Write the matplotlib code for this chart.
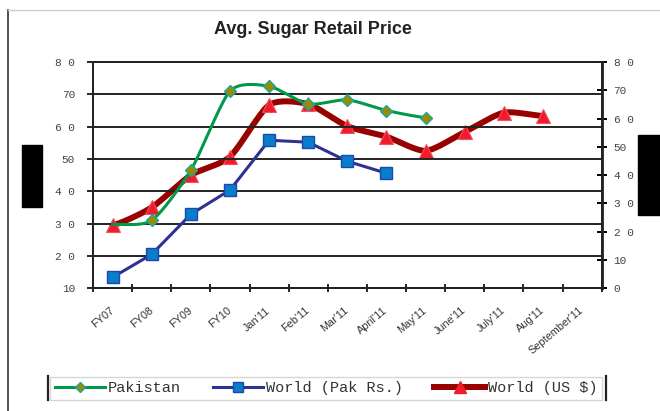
import numpy as np
import matplotlib
matplotlib.use("Agg")
import matplotlib.pyplot as plt
from matplotlib.lines import Line2D
from matplotlib.patches import Rectangle

# data
categories = ["FY07", "FY08", "FY09", "FY10", "Jan'11", "Feb'11", "Mar'11",
              "April'11", "May'11", "June'11", "July'11", "Aug'11", "September'11"]
pakistan = [29.8, 31.0, 46.5, 71.0, 72.5, 67.0, 68.3, 65.0, 62.8]
world_pkr = [13.4, 20.5, 32.9, 40.4, 55.8, 55.2, 49.3, 45.6]
world_usd = [22.3, 28.6, 40.0, 46.5, 64.8, 65.1, 57.3, 53.6, 48.6, 55.3, 62.1, 60.9]

left_ticks = [10, 20, 30, 40, 50, 60, 70, 80]
left_labels = ["10", "2 0", "3 0", "4 0", "50", "6 0", "70", "8 0"]
right_ticks = [0, 10, 20, 30, 40, 50, 60, 70, 80]
right_labels = ["0", "10", "2 0", "3 0", "4 0", "50", "6 0", "70", "8 0"]


def smooth(y, n=20, k=0.35):
    # cardinal spline through the points, close to excel "smoothed line"
    x = np.arange(len(y), dtype=float)
    y = np.asarray(y, dtype=float)
    px = np.concatenate([[2 * x[0] - x[1]], x, [2 * x[-1] - x[-2]]])
    py = np.concatenate([[y[0]], y, [y[-1]]])
    xs, ys = [], []
    t = np.linspace(0, 1, n, endpoint=False)
    h00 = 2 * t ** 3 - 3 * t ** 2 + 1
    h10 = t ** 3 - 2 * t ** 2 + t
    h01 = -2 * t ** 3 + 3 * t ** 2
    h11 = t ** 3 - t ** 2
    for i in range(1, len(px) - 2):
        for arr, out in ((px, xs), (py, ys)):
            m1 = k * (arr[i + 1] - arr[i - 1])
            m2 = k * (arr[i + 2] - arr[i])
            out.extend(h00 * arr[i] + h10 * m1 + h01 * arr[i + 1] + h11 * m2)
    xs.append(x[-1]); ys.append(y[-1])
    return np.array(xs), np.array(ys)


fig = plt.figure(figsize=(6.6, 4.11), dpi=100)
ax = fig.add_axes([0.1409, 0.2985, 0.7708, 0.5506])
ax2 = ax.twinx()

green = "#00984a"
navy = "#2e3192"
dred = "#990000"

# world (US $) on the right axis
sx, sy = smooth(world_usd)
ax2.plot(sx, sy, color=dred, lw=4.3, solid_capstyle="round", zorder=3)
ax2.plot(range(len(world_usd)), world_usd, ls="none", marker="^", ms=10,
         mfc="#f01c2c", mec="#f25060", mew=0.8, zorder=4)

# pakistan
sx, sy = smooth(pakistan)
ax.plot(sx, sy, color=green, lw=2.2, zorder=3)
ax.plot(range(1, len(pakistan)), pakistan[1:], ls="none", marker="D", ms=6,
        mfc="#9a8c00", mec="#1aa6a0", mew=1.0, zorder=4)

# world (pak rs.)
ax.plot(range(len(world_pkr)), world_pkr, color=navy, lw=2.2, marker="s", ms=8.5,
        mfc="#0a7ccc", mec="#1a4aa8", mew=1.0, zorder=4)

ax.set_zorder(ax2.get_zorder() + 1)
ax.patch.set_visible(False)

ax.set_xlim(-0.5, len(categories) - 0.5)
ax.set_ylim(10, 80)
ax2.set_ylim(0, 80)

for v in left_ticks:
    ax.axhline(v, color="#222222", lw=1.4, zorder=1)

ax.set_yticks(left_ticks)
ax.set_yticklabels(left_labels, family="Liberation Mono", fontsize=8, color="#444444")
ax2.set_yticks(right_ticks)
ax2.set_yticklabels(right_labels, family="Liberation Mono", fontsize=8, color="#444444")
ax.tick_params(axis="y", direction="out", length=4, width=1.2, pad=9)
ax2.tick_params(axis="y", direction="inout", length=7, width=1.4, pad=5)

ax.set_xticks(np.arange(len(categories) + 1) - 0.5, minor=False)
ax.set_xticklabels([])
ax.set_xticks(np.arange(len(categories)), minor=True)
ax.set_xticklabels(categories, minor=True, rotation=40, ha="right", va="center",
                   rotation_mode="anchor", family="Liberation Sans", fontsize=7.8,
                   color="#333333")
ax.tick_params(axis="x", which="major", direction="inout", length=6, width=1.2)
ax.tick_params(axis="x", which="minor", length=0, pad=15)

for a in (ax, ax2):
    for s in a.spines.values():
        s.set_color("#222222")
        s.set_linewidth(1.4)
ax2.spines["right"].set_linewidth(2.0)

fig.text(0.474, 0.929, "Avg. Sugar Retail Price", ha="center", va="center",
         family="Liberation Sans", fontweight="bold", fontsize=13, color="#222222")

handles = [
    Line2D([], [], color=green, lw=2.2, marker="D", ms=5, mfc="#9a8c00", mec="#1aa6a0"),
    Line2D([], [], color=navy, lw=2.2, marker="s", ms=7, mfc="#0a7ccc", mec="#1a4aa8"),
    Line2D([], [], color=dred, lw=4.3, marker="^", ms=8, mfc="#f01c2c", mec="#f01c2c"),
]
leg = fig.legend(handles, ["Pakistan", "World (Pak Rs.)", "World (US $)"], ncol=3,
                 loc="lower left", mode="expand",
                 bbox_to_anchor=(50 / 660, 11 / 411, 552 / 660, 24 / 411), frameon=True,
                 fancybox=False, handlelength=3.3, handletextpad=0.2,
                 columnspacing=1.6, borderpad=0.3, borderaxespad=0,
                 prop={"family": "Liberation Mono", "size": 11})
leg.get_frame().set_edgecolor("#cccccc")
leg.get_frame().set_linewidth(1.0)
for t in leg.get_texts():
    t.set_color("#333333")
for lx in (48 / 660, 606 / 660):
    fig.add_artist(Line2D([lx, lx], [1 - 376 / 411, 1 - 400 / 411], color="#222222", lw=1.6))

# chart border and redaction boxes
fig.add_artist(Line2D([7.5 / 660, 7.5 / 660], [0, 1 - 10 / 411], color="#333333", lw=1.2))
fig.add_artist(Line2D([7.5 / 660, 1], [1 - 10 / 411, 1 - 10 / 411], color="#cccccc", lw=1.0))
fig.add_artist(Rectangle((22 / 660, 204 / 411), 20 / 660, 62 / 411, color="black",
                         transform=fig.transFigure))
fig.add_artist(Rectangle((638 / 660, 196 / 411), 22 / 660, 80 / 411, color="black",
                         transform=fig.transFigure))

fig.savefig("out.png", dpi=100)
